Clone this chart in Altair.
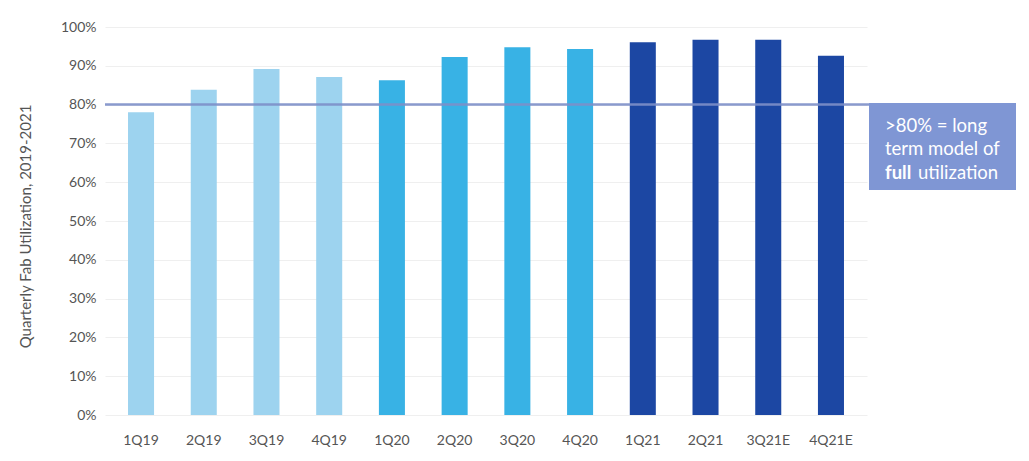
import altair as alt
import pandas as pd

quarters = ["1Q19", "2Q19", "3Q19", "4Q19", "1Q20", "2Q20", "3Q20", "4Q20",
            "1Q21", "2Q21", "3Q21E", "4Q21E"]
utilization = [78, 83.8, 89.2, 87.1, 86.3, 92.3, 94.8, 94.3, 96.1, 96.7, 96.7, 92.6]
years = ["2019"] * 4 + ["2020"] * 4 + ["2021"] * 4
year_colors = ["#9dd3ef", "#38b2e5", "#1c47a3"]
threshold = [80]
note_top, note_bottom = [80.4], [58]
y_ticks = list(range(0, 101, 10))

df = pd.DataFrame({"quarter": quarters, "util": utilization, "year": years})

FONT = "Lato"
W, H = 762, 388

yaxis = alt.Axis(title="Quarterly Fab Utilization, 2019-2021",
                 values=y_ticks,
                 labelExpr="datum.value + '%'",
                 labelOverlap=False,
                 ticks=False, domain=False, gridColor="#efefef",
                 gridWidth=1.2, labelPadding=9, labelFontSize=14,
                 labelColor="#555555", labelFont=FONT,
                 titleFont=FONT, titleFontSize=15, titleFontWeight="normal",
                 titleColor="#555555", titleX=-72, titleY=199)
yscale = alt.Scale(domain=[0, 100], nice=False)

bars = alt.Chart(df).mark_bar().encode(
    x=alt.X("quarter:N", sort=quarters,
            scale=alt.Scale(paddingInner=0.585, paddingOuter=0.367),
            axis=alt.Axis(title=None, labelAngle=0, ticks=False, domain=False,
                          grid=False, labelPadding=18, labelFontSize=14,
                          labelColor="#555555", labelFont=FONT)),
    y=alt.Y("util:Q", scale=yscale, axis=yaxis),
    color=alt.Color("year:N", scale=alt.Scale(domain=["2019", "2020", "2021"],
                                              range=year_colors), legend=None),
)

rule = alt.Chart(pd.DataFrame({"t": threshold})).mark_rule(
    color="#7d8fc8", strokeWidth=2.5, opacity=0.9
).encode(y=alt.Y("t:Q", scale=yscale, axis=yaxis), x=alt.value(0), x2=alt.value(W + 2))

box = alt.Chart(pd.DataFrame({"top": note_top, "bot": note_bottom})).mark_rect(
    color="#7f96d4"
).encode(y=alt.Y("top:Q", scale=yscale, axis=yaxis), y2="bot:Q",
         x=alt.value(W + 2), x2=alt.value(W + 149))

lines_df = pd.DataFrame({
    "txt": [">80% = long", "term model of", "full", "utilization"],
    "yv": [74.6, 68.6, 62.5, 62.5],
    "xo": [0, 0, 0, 33],
    "w": ["normal", "normal", "bold", "normal"],
})
texts = []
for i, row in lines_df.iterrows():
    texts.append(
        alt.Chart(lines_df.iloc[[i]]).mark_text(
            align="left", baseline="middle", color="white", fontSize=18.5,
            font=FONT, fontWeight=row["w"]
        ).encode(text="txt:N", y=alt.Y("yv:Q", scale=yscale, axis=yaxis),
                 x=alt.value(W + 18 + row["xo"]))
    )

chart = alt.layer(bars, rule, box, *texts).properties(
    width=W, height=H,
    background="white",
    autosize=alt.AutoSizeParams(type="none"),
    padding={"left": 97, "top": 19, "right": 154, "bottom": 40},
).configure_view(stroke=None)

chart.save("out.html", embed_options={"renderer": "svg", "actions": False})
